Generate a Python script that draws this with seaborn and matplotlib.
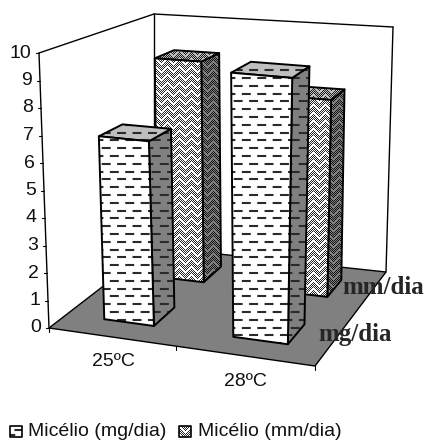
"""3D-look bar chart of mycelium growth at two temperatures, projected by hand on a flat axes."""
import matplotlib
matplotlib.use("Agg")
import matplotlib.pyplot as plt
from matplotlib.patches import Polygon
import numpy as np
import pandas as pd
import seaborn as sns

temps = ["25ºC", "28ºC"]
series = ["mg/dia", "mm/dia"]
legend_labels = ["Micélio (mg/dia)", "Micélio (mm/dia)"]
mg_dia = [6.77, 9.55]
mm_dia = [8.78, 7.65]
y_ticks = list(range(0, 11))

sns.set_style("white")
plt.rcParams["font.family"] = ["Liberation Sans", "DejaVu Sans"]

df = pd.DataFrame({"temp": temps * 2, "series": series[0:1] * 2 + series[1:] * 2, "value": mg_dia + mm_dia})

# chart box corners in pixels: front-left, front-right, back-right, back-left
FLOOR = [(49, 328), (315, 366), (386, 272), (154, 247)]
TOP = [(39, 53), (326, 79), (393, 27), (154, 14)]
ZMAX = 10
BAR_W, BAR_D = 0.2, 0.2
GREY = "#808080"


def homography(pts):
    src = [(0, 0), (1, 0), (1, 1), (0, 1)]
    a, b = [], []
    for (u, v), (px, py) in zip(src, pts):
        a.append([u, v, 1, 0, 0, 0, -u * px, -v * px])
        a.append([0, 0, 0, u, v, 1, -u * py, -v * py])
        b += [px, py]
    return np.append(np.linalg.solve(np.array(a, float), np.array(b, float)), 1).reshape(3, 3)


H_FLOOR, H_TOP = homography(FLOOR), homography(TOP)


def proj(x, d, z):
    p = np.array([x, d, 1.0])
    f, t = H_FLOOR @ p, H_TOP @ p
    return tuple(f[:2] / f[2] + (t[:2] / t[2] - f[:2] / f[2]) * z / ZMAX)


def tile_weave(n=12, p=8):
    # zigzag tile, 1 = dark; dark stripes are dithered so they read as grey
    t = np.zeros((p * 3, n * 2))
    for i in range(p * 3):
        for j in range(n * 2):
            tri = abs((j % n) - n // 2)
            t[i, j] = (i + tri) % p < 5 and (i + j) % 2 == 0
    return t


TILE = tile_weave()


def pattern_fill(ax, poly, kind, shade, lw=1.4, step=7.8):
    # shade is the face grey level, the pattern gets clipped to the polygon
    xs, ys = zip(*poly)
    face = Polygon(poly, closed=True, fc=str(shade), ec="none", zorder=ax.zz)
    ax.add_patch(face)
    if kind == "dash":
        x0, x1 = min(xs), max(xs)
        for k, y in enumerate(np.arange(np.floor(min(ys) / step) * step, max(ys), step)):
            off = 0 if k % 2 else 3.9
            ln, = ax.plot([x0 - 20, x1], [y, y], color="#2a2a2a", lw=1.5,
                          linestyle=(off, (4.3, 3.1)), dash_capstyle="butt", zorder=ax.zz)
            ln.set_clip_path(face)
    else:
        w, h = int(max(xs) - min(xs)) + 1, int(max(ys) - min(ys)) + 1
        img = np.tile(TILE, (h // TILE.shape[0] + 1, w // TILE.shape[1] + 1))[:h, :w]
        rgb = np.where(img[..., None] > 0, 0.15 * shade, shade)
        im = ax.imshow(np.repeat(rgb, 3, axis=2), extent=(min(xs), min(xs) + w, min(ys) + h, min(ys)),
                       interpolation="nearest", aspect="auto", zorder=ax.zz)
        im.set_clip_path(face)
    ax.add_patch(Polygon(poly, closed=True, fc="none", ec="black", lw=lw, joinstyle="round", zorder=ax.zz))
    ax.zz += 0.01


def bar3d(ax, xc, dc, value, kind):
    x0, x1 = xc - BAR_W / 2, xc + BAR_W / 2
    d0, d1 = dc - BAR_D / 2, dc + BAR_D / 2
    front = [proj(x0, d0, 0), proj(x1, d0, 0), proj(x1, d0, value), proj(x0, d0, value)]
    side = [proj(x1, d0, 0), proj(x1, d1, 0), proj(x1, d1, value), proj(x1, d0, value)]
    top = [proj(x0, d0, value), proj(x1, d0, value), proj(x1, d1, value), proj(x0, d1, value)]
    pattern_fill(ax, side, kind, 0.5)
    pattern_fill(ax, top, kind, 0.75)
    pattern_fill(ax, front, kind, 1.0)


fig = plt.figure(figsize=(4.28, 4.41), dpi=100)
ax = fig.add_axes([0, 0, 1, 1])
ax.zz = 3

# walls and floor
ax.add_patch(Polygon(FLOOR, closed=True, fc=GREY, ec="black", lw=1, zorder=1))
for a, b in [(FLOOR[0], TOP[0]), (TOP[0], TOP[3]), (TOP[3], FLOOR[3]), (TOP[3], TOP[2]), (TOP[2], FLOOR[2])]:
    ax.plot(*zip(a, b), color="black", lw=1, zorder=2)

for v in y_ticks:
    px, py = proj(0, 0, v)
    ax.plot([px - 3, px], [py, py], color="black", lw=0.8, zorder=2)
    ax.text(px - 8, py, str(v), ha="right", va="center", fontsize=14, color="#111111")

for frac in [0, 0.5, 1]:
    px, py = proj(frac, 0, 0)
    ax.plot([px, px], [py, py + 4], color="black", lw=0.8, zorder=2)

label_pos = [(113, 361), (245, 381)]
for t, (px, py) in zip(temps, label_pos):
    ax.text(px, py, t, ha="center", va="center", fontsize=14, color="#111111")

# back row first, then the front one
for _, row in df[df.series == "mm/dia"].iterrows():
    bar3d(ax, 0.26 + 0.5 * temps.index(row.temp), 0.75, row.value, "weave")
for _, row in df[df.series == "mg/dia"].iterrows():
    bar3d(ax, 0.255 + 0.505 * temps.index(row.temp), 0.25, row.value, "dash")

ax.text(342, 287, "mm/dia", family="Liberation Serif", weight="bold", fontsize=18, va="center", zorder=9)
ax.text(318, 335, "mg/dia", family="Liberation Serif", weight="bold", fontsize=18, va="center", zorder=9)

# legend
for bx, label, tx, kind in [(10, legend_labels[0], 28, "dash"), (179, legend_labels[1], 198, "weave")]:
    pattern_fill(ax, [(bx, 426), (bx + 12, 426), (bx + 12, 437), (bx, 437)], kind, 1.0, lw=1.2, step=5)
    ax.text(tx, 431, label, va="center", fontsize=14, color="#111111")

ax.set_xlim(0, 428)
ax.set_ylim(441, 0)
ax.axis("off")
fig.savefig("out.png", dpi=100)
